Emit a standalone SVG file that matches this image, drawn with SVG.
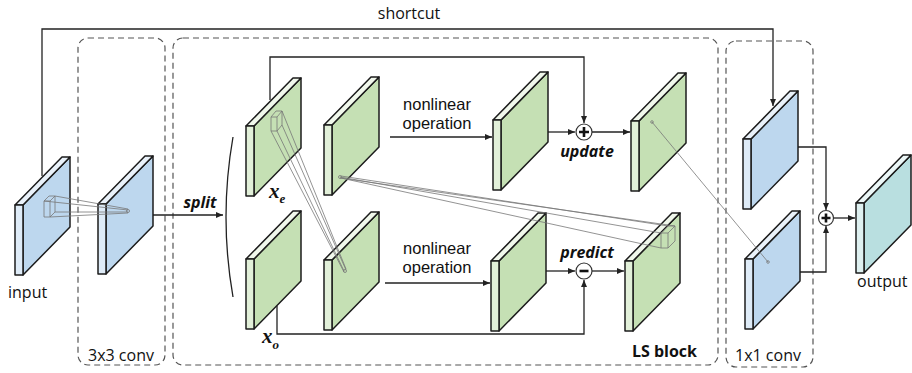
<svg xmlns="http://www.w3.org/2000/svg" width="912" height="373" viewBox="0 0 912 373">
  <style>
    .slab path { stroke: #1c1c1c; stroke-width: 1.5; stroke-linejoin: round; }
    .blue .main { fill: #bdd7ee; } .blue .front { fill: #deebf7; } .blue .top { fill: #eaf2fa; }
    .green .main { fill: #c5e0b4; } .green .front { fill: #e2f0d9; } .green .top { fill: #f1f8ec; }
    .teal .main { fill: #b9dfe0; } .teal .front { fill: #def0f0; } .teal .top { fill: #ecf7f7; }
    .frame { fill: none; stroke: #555; stroke-width: 1.2; stroke-dasharray: 6 4; }
    .wire { fill: none; stroke: #222; stroke-width: 1.3; }
    .arrow { marker-end: url(#head); }
    .rf { fill: none; stroke: #777; stroke-width: 0.8; }
    .op { fill: #fff; stroke: #333; stroke-width: 1.2; }
    .sign { stroke: #111; stroke-width: 2.6; }
    .lbl { font-family: "Open Sans", "Noto Sans", "Liberation Sans", sans-serif; font-size: 16px; fill: #111; }
    .nl { font-family: "Liberation Sans", Arial, sans-serif; font-size: 16.5px; fill: #111; }
    .em { font-family: "Open Sans", "Noto Sans", "Liberation Sans", sans-serif; font-size: 16px; font-weight: bold; font-style: italic; fill: #111; }
    .bold { font-family: "Open Sans", "Noto Sans", "Liberation Sans", sans-serif; font-size: 16px; font-weight: bold; fill: #111; }
    .var { font-family: "Liberation Serif", "Times New Roman", serif; font-size: 21px; font-weight: bold; font-style: italic; fill: #111; }
  </style>
  <defs>
    <marker id="head" markerUnits="userSpaceOnUse" markerWidth="8" markerHeight="6" refX="7" refY="3" orient="auto">
      <path d="M0,0 L7,3 L0,6 z" fill="#222"/>
    </marker>
  </defs>

  <rect width="912" height="373" fill="#fff"/>

  <!-- dashed stage frames -->
  <g id="frames">
    <rect id="frame-conv3" class="frame" x="78" y="38" width="87" height="327" rx="10"/>
    <rect id="frame-ls" class="frame" x="173" y="38" width="545" height="327" rx="10"/>
    <rect id="frame-conv1" class="frame" x="726" y="41" width="87" height="326" rx="10"/>
    <text class="lbl" x="121" y="361" text-anchor="middle">3x3 conv</text>
    <text class="bold" x="697" y="357" text-anchor="end">LS block</text>
    <text class="lbl" x="768" y="361" text-anchor="middle">1x1 conv</text>
  </g>

  <!-- connectors -->
  <g id="connectors">
    <polyline id="shortcut" class="wire arrow" points="42,176 42,29 773,29 773,106"/>
    <text class="lbl" x="409" y="19" text-anchor="middle">shortcut</text>
    <line class="wire arrow" x1="152" y1="215" x2="223" y2="215"/>
    <text class="em" x="200" y="208" text-anchor="middle">split</text>
    <path class="wire" d="M233,137 Q219,217 233,297" stroke-width="1.2"/>
    <!-- even branch to update -->
    <polyline class="wire arrow" points="270,100 270,57 584,57 584,123"/>
    <!-- odd branch to predict -->
    <polyline class="wire arrow" points="277,306 277,334 584,334 584,280"/>
    <line class="wire arrow" x1="390" y1="137" x2="492" y2="137"/>
    <line class="wire arrow" x1="385" y1="283" x2="490" y2="283"/>
    <line class="wire arrow" x1="548" y1="132" x2="575" y2="132"/>
    <line class="wire arrow" x1="592" y1="132" x2="630" y2="132"/>
    <line class="wire arrow" x1="546" y1="271" x2="575" y2="271"/>
    <line class="wire arrow" x1="592" y1="271" x2="624" y2="271"/>
    <polyline class="wire arrow" points="773,147 826,147 826,210"/>
    <polyline class="wire arrow" points="775,272 826,272 826,226"/>
    <line class="wire arrow" x1="833" y1="218" x2="855" y2="218"/>
  </g>

  <!-- feature maps: main face, top edge, front edge -->
  <g id="input" class="slab blue">
    <g transform="translate(15,205)"><path class="main" d="M8,0 L55,-48 L55,22 L8,70 z"/><path class="top" d="M0,0 L47,-48 L55,-48 L8,0 z"/><path class="front" d="M0,0 h8 v70 h-8 z"/></g>
    <text class="lbl" x="8" y="298">input</text>
  </g>
  <g id="conv3x3" class="slab blue">
    <g transform="translate(98,204)"><path class="main" d="M8,0 L55,-48 L55,22 L8,70 z"/><path class="top" d="M0,0 L47,-48 L55,-48 L8,0 z"/><path class="front" d="M0,0 h8 v70 h-8 z"/></g>
  </g>
  <g id="x-even" class="slab green">
    <g transform="translate(246,126)"><path class="main" d="M8,0 L55,-48 L55,22 L8,70 z"/><path class="top" d="M0,0 L47,-48 L55,-48 L8,0 z"/><path class="front" d="M0,0 h8 v70 h-8 z"/></g>
    <text class="var" x="269" y="198">x<tspan font-size="13" dy="5">e</tspan></text>
  </g>
  <g id="x-odd" class="slab green">
    <g transform="translate(246,259)"><path class="main" d="M8,0 L55,-48 L55,22 L8,70 z"/><path class="top" d="M0,0 L47,-48 L55,-48 L8,0 z"/><path class="front" d="M0,0 h8 v70 h-8 z"/></g>
    <text class="var" x="262" y="343">x<tspan font-size="13" dy="6">o</tspan></text>
  </g>
  <g id="even-copy" class="slab green">
    <g transform="translate(324,125)"><path class="main" d="M8,0 L55,-48 L55,22 L8,70 z"/><path class="top" d="M0,0 L47,-48 L55,-48 L8,0 z"/><path class="front" d="M0,0 h8 v70 h-8 z"/></g>
  </g>
  <g id="odd-copy" class="slab green">
    <g transform="translate(324,260)"><path class="main" d="M8,0 L55,-48 L55,22 L8,70 z"/><path class="top" d="M0,0 L47,-48 L55,-48 L8,0 z"/><path class="front" d="M0,0 h8 v70 h-8 z"/></g>
  </g>
  <g id="nl-top" class="slab green">
    <g transform="translate(493,120)"><path class="main" d="M8,0 L55,-48 L55,22 L8,70 z"/><path class="top" d="M0,0 L47,-48 L55,-48 L8,0 z"/><path class="front" d="M0,0 h8 v70 h-8 z"/></g>
    <text class="nl" x="437" y="110" text-anchor="middle">nonlinear</text>
    <text class="nl" x="437" y="129" text-anchor="middle">operation</text>
  </g>
  <g id="nl-bottom" class="slab green">
    <g transform="translate(491,261)"><path class="main" d="M8,0 L55,-48 L55,22 L8,70 z"/><path class="top" d="M0,0 L47,-48 L55,-48 L8,0 z"/><path class="front" d="M0,0 h8 v70 h-8 z"/></g>
    <text class="nl" x="437" y="254" text-anchor="middle">nonlinear</text>
    <text class="nl" x="437" y="273" text-anchor="middle">operation</text>
  </g>
  <g id="updated" class="slab green">
    <g transform="translate(631,121)"><path class="main" d="M8,0 L55,-48 L55,22 L8,70 z"/><path class="top" d="M0,0 L47,-48 L55,-48 L8,0 z"/><path class="front" d="M0,0 h8 v70 h-8 z"/></g>
  </g>
  <g id="predicted" class="slab green">
    <g transform="translate(625,261)"><path class="main" d="M8,0 L55,-48 L55,22 L8,70 z"/><path class="top" d="M0,0 L47,-48 L55,-48 L8,0 z"/><path class="front" d="M0,0 h8 v70 h-8 z"/></g>
  </g>
  <g id="conv1-top" class="slab blue">
    <g transform="translate(743,139)"><path class="main" d="M8,0 L55,-48 L55,22 L8,70 z"/><path class="top" d="M0,0 L47,-48 L55,-48 L8,0 z"/><path class="front" d="M0,0 h8 v70 h-8 z"/></g>
  </g>
  <g id="conv1-bottom" class="slab blue">
    <g transform="translate(745,259)"><path class="main" d="M8,0 L55,-48 L55,22 L8,70 z"/><path class="top" d="M0,0 L47,-48 L55,-48 L8,0 z"/><path class="front" d="M0,0 h8 v70 h-8 z"/></g>
  </g>
  <g id="output" class="slab teal">
    <g transform="translate(856,203)"><path class="main" d="M8,0 L55,-48 L55,22 L8,70 z"/><path class="top" d="M0,0 L47,-48 L55,-48 L8,0 z"/><path class="front" d="M0,0 h8 v70 h-8 z"/></g>
    <text class="lbl" x="857" y="287">output</text>
  </g>

  <!-- operators -->
  <g id="update">
    <circle class="op" cx="584" cy="132" r="8"/>
    <path class="sign" d="M579,132 h10 M584,127 v10"/>
    <text class="em" x="587" y="157" text-anchor="middle">update</text>
  </g>
  <g id="predict">
    <circle class="op" cx="584" cy="271" r="8"/>
    <path class="sign" d="M579.5,271 h9"/>
    <text class="em" x="587" y="258" text-anchor="middle">predict</text>
  </g>
  <g id="sum">
    <circle class="op" cx="826" cy="218" r="7.5"/>
    <path class="sign" d="M821.5,218 h9 M826,213.5 v9"/>
  </g>

  <!-- receptive-field projections -->
  <g id="receptive-fields">
    <path class="rf" d="M44,201 h6 v16 h-6 z M44,201 l5,-5 h6 l-5,5 M50,217 l5,-5 v-16"/>
    <path class="rf" d="M55,196 L128,209 M55,212 L128,212 M50,217 L128,213 M44,201 L128,210"/>
    <circle class="rf" cx="128" cy="211" r="1.5"/>

    <path class="rf" d="M271,117 h6 v14 h-6 z M271,117 l5,-6 h6 l-5,6 M277,131 l5,-6 v-14"/>
    <path class="rf" d="M277,131 L344,271 M282,125 L346,270 M282,111 L346,269 M271,131 L344,272"/>
    <circle class="rf" cx="345" cy="271" r="1.5"/>

    <path class="rf" d="M661,233 h7 v15 h-7 z M661,233 l7,-7 h7 l-7,7 M668,248 l7,-7 v-15"/>
    <path class="rf" d="M340,177 L661,233 M341,176 L668,226 M340,178 L675,226 M341,178 L661,248"/>
    <circle class="rf" cx="340" cy="177" r="1.5"/>

    <line class="rf" x1="652" y1="122" x2="768" y2="262"/>
    <circle class="rf" cx="652" cy="122" r="1.3"/>
    <circle class="rf" cx="768" cy="262" r="1.3"/>
  </g>
</svg>
